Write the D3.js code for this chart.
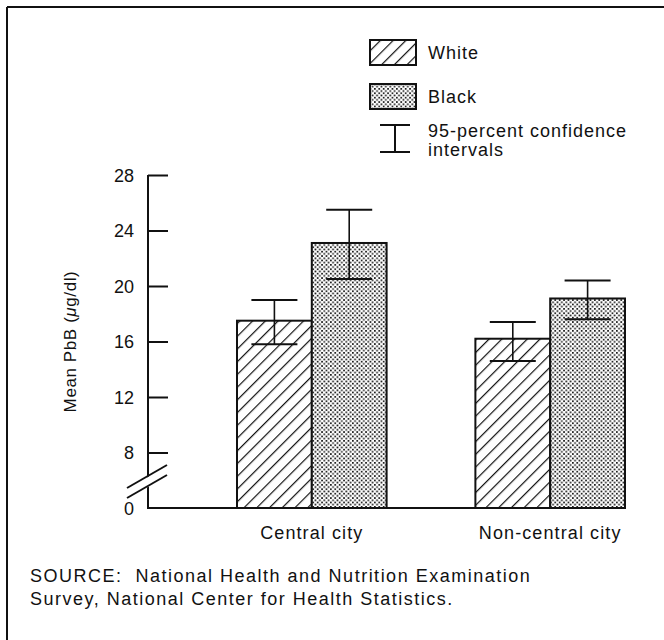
<!DOCTYPE html>
<html>
<head>
<meta charset="utf-8">
<script src="https://cdn.jsdelivr.net/npm/d3@7"></script>
<style>
  body { margin: 0; background: #fff; }
  text { font-family: "Liberation Sans", Arial, sans-serif; fill: #111; }
</style>
</head>
<body>
<script>
// Data
var categories = ["Central city", "Non-central city"];
var groups = ["White", "Black"];
var means = [[17.5, 23.1], [16.2, 19.1]];
var ciLow = [[15.8, 20.5], [14.6, 17.6]];
var ciHigh = [[19.0, 25.5], [17.4, 20.4]];
var tickValues = [4, 8, 12, 16, 20, 24, 28]; // 4 is drawn as "0" below the break
var sourceLines = ["SOURCE:  National Health and Nutrition Examination",
                   "Survey, National Center for Health Statistics."];

var width = 664, height = 640;

var svg = d3.select("body").append("svg")
  .attr("width", width)
  .attr("height", height);

var defs = svg.append("defs");

// diagonal hatch for White
var hatch = defs.append("pattern")
  .attr("id", "hatch")
  .attr("patternUnits", "userSpaceOnUse")
  .attr("width", 9).attr("height", 9)
  .attr("patternTransform", "rotate(45)");
hatch.append("rect").attr("width", 9).attr("height", 9).attr("fill", "#fff");
hatch.append("line")
  .attr("x1", 0).attr("y1", 0).attr("x2", 0).attr("y2", 9)
  .attr("stroke", "#111").attr("stroke-width", 2.4);

// dotted screen for Black
var dots = defs.append("pattern")
  .attr("id", "dots")
  .attr("patternUnits", "userSpaceOnUse")
  .attr("width", 4.4).attr("height", 4.4);
dots.append("rect").attr("width", 4.4).attr("height", 4.4).attr("fill", "#fff");
dots.append("rect").attr("x", 0).attr("y", 0).attr("width", 1.7).attr("height", 1.7).attr("fill", "#1a1a1a");
dots.append("rect").attr("x", 2.2).attr("y", 2.2).attr("width", 1.7).attr("height", 1.7).attr("fill", "#1a1a1a");

var fills = ["url(#hatch)", "url(#dots)"];

// frame (top and left edges visible)
svg.append("line").attr("x1", 7).attr("y1", 7).attr("x2", width).attr("y2", 7)
  .attr("stroke", "#111").attr("stroke-width", 2);
svg.append("line").attr("x1", 7).attr("y1", 7).attr("x2", 7).attr("y2", height)
  .attr("stroke", "#111").attr("stroke-width", 2);

// scales
var x0 = d3.scaleBand().domain(categories).range([237, 625]).paddingInner(0.3724).paddingOuter(0);
var xg = d3.scaleBand().domain(groups).range([0, x0.bandwidth()]);
var y = d3.scaleLinear().domain([4, 28]).range([508, 175]);

var axisX = 148;

// y axis (ticks pointing inward)
var yAxis = d3.axisRight(y)
  .tickValues(tickValues)
  .tickSize(20)
  .tickFormat(function(d) { return d === 4 ? "0" : d; });

var gy = svg.append("g").attr("transform", "translate(" + axisX + ",0)").call(yAxis);
gy.select(".domain").remove();
gy.selectAll(".tick line").attr("stroke", "#111").attr("stroke-width", 2)
  .filter(function(d) { return d === 4; }).remove();
gy.selectAll(".tick text")
  .attr("x", -14).attr("dy", "0.36em")
  .attr("text-anchor", "end")
  .attr("font-size", 18).attr("fill", "#111");

svg.append("line")
  .attr("x1", axisX).attr("x2", axisX)
  .attr("y1", y(28)).attr("y2", y(4) + 1)
  .attr("stroke", "#111").attr("stroke-width", 2);

// baseline
svg.append("line")
  .attr("x1", axisX - 1).attr("x2", x0("Non-central city") + x0.bandwidth())
  .attr("y1", y(4)).attr("y2", y(4))
  .attr("stroke", "#111").attr("stroke-width", 2);

// axis break marks
var brk = svg.append("g");
brk.append("polygon")
  .attr("points", "127,489 167,466 167,476 127,499")
  .attr("fill", "#fff");
brk.append("line").attr("x1", 127).attr("y1", 488).attr("x2", 167).attr("y2", 465)
  .attr("stroke", "#111").attr("stroke-width", 2);
brk.append("line").attr("x1", 127).attr("y1", 498).attr("x2", 167).attr("y2", 475)
  .attr("stroke", "#111").attr("stroke-width", 2);

// y label
svg.append("text")
  .attr("transform", "translate(76," + y(16) + ") rotate(-90)")
  .attr("text-anchor", "middle")
  .attr("font-size", 17)
  .attr("letter-spacing", 0.6)
  .html("Mean PbB (<tspan font-style='italic'>μ</tspan>g/dl)");

// bars
var rows = [];
categories.forEach(function(c, i) {
  groups.forEach(function(g, j) {
    rows.push({cat: c, grp: g, j: j, mean: means[i][j], lo: ciLow[i][j], hi: ciHigh[i][j]});
  });
});

function cx(d) { return x0(d.cat) + xg(d.grp) + xg.bandwidth() / 2; }

var barG = svg.append("g");
barG.selectAll("rect.bar").data(rows).enter().append("rect")
  .attr("class", "bar")
  .attr("x", function(d) { return x0(d.cat) + xg(d.grp); })
  .attr("y", function(d) { return y(d.mean); })
  .attr("width", xg.bandwidth())
  .attr("height", function(d) { return y(4) - y(d.mean); })
  .attr("fill", function(d) { return fills[d.j]; })
  .attr("stroke", "#111").attr("stroke-width", 2);

// error bars
var capW = 46;
var err = barG.selectAll("g.err").data(rows).enter().append("g").attr("class", "err");
err.append("line")
  .attr("x1", cx).attr("x2", cx)
  .attr("y1", function(d) { return y(d.hi); })
  .attr("y2", function(d) { return y(d.lo); })
  .attr("stroke", "#111").attr("stroke-width", 1.6);
err.selectAll("line.cap").data(function(d) { return [d.hi, d.lo].map(function(v) { return {d: d, v: v}; }); })
  .enter().append("line").attr("class", "cap")
  .attr("x1", function(e) { return cx(e.d) - capW / 2; })
  .attr("x2", function(e) { return cx(e.d) + capW / 2; })
  .attr("y1", function(e) { return y(e.v); })
  .attr("y2", function(e) { return y(e.v); })
  .attr("stroke", "#111").attr("stroke-width", 2);

// category labels
svg.selectAll("text.cat").data(categories).enter().append("text")
  .attr("class", "cat")
  .attr("x", function(d) { return x0(d) + x0.bandwidth() / 2; })
  .attr("y", 539)
  .attr("text-anchor", "middle")
  .attr("font-size", 18)
  .attr("letter-spacing", 1.1)
  .text(function(d) { return d; });

// legend
var leg = svg.append("g");
groups.forEach(function(g, j) {
  var top = 40 + j * 44;
  leg.append("rect")
    .attr("x", 370).attr("y", top).attr("width", 46).attr("height", 25)
    .attr("fill", fills[j]).attr("stroke", "#111").attr("stroke-width", 2);
  leg.append("text")
    .attr("x", 428).attr("y", top + 19)
    .attr("font-size", 18)
    .attr("letter-spacing", 1)
    .text(g);
});
leg.append("line").attr("x1", 380).attr("x2", 410).attr("y1", 125).attr("y2", 125)
  .attr("stroke", "#111").attr("stroke-width", 2);
leg.append("line").attr("x1", 380).attr("x2", 410).attr("y1", 152).attr("y2", 152)
  .attr("stroke", "#111").attr("stroke-width", 2);
leg.append("line").attr("x1", 395).attr("x2", 395).attr("y1", 125).attr("y2", 152)
  .attr("stroke", "#111").attr("stroke-width", 2);
leg.append("text").attr("x", 428).attr("y", 137).attr("font-size", 18).attr("letter-spacing", 1).text("95-percent confidence");
leg.append("text").attr("x", 428).attr("y", 156).attr("font-size", 18).attr("letter-spacing", 1).text("intervals");

// source note
svg.selectAll("text.src").data(sourceLines).enter().append("text")
  .attr("class", "src")
  .attr("x", 30)
  .attr("y", function(d, i) { return 582 + i * 23; })
  .attr("font-size", 18)
  .attr("letter-spacing", 1.5)
  .attr("xml:space", "preserve")
  .text(function(d) { return d; });
</script>
</body>
</html>
